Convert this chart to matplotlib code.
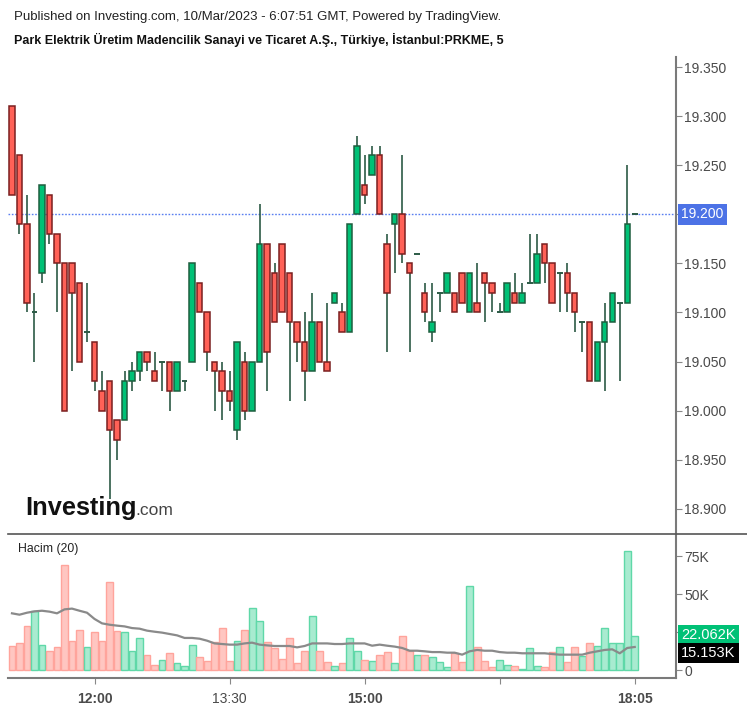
import numpy as np
import matplotlib.pyplot as plt
import matplotlib.transforms as mtransforms
from matplotlib.lines import Line2D

plt.rcParams['font.family'] = ['Liberation Sans', 'DejaVu Sans']

# 5-minute candles
opens = [19.31, 19.26, 19.19, 19.10, 19.14, 19.22, 19.18, 19.15, 19.15, 19.13,
         19.08, 19.07, 19.02, 19.03, 18.99, 18.99, 19.03, 19.04, 19.06, 19.04,
         19.05, 19.05, 19.02, 19.03, 19.05, 19.13, 19.10, 19.05, 19.04, 19.02,
         18.98, 19.05, 19.00, 19.05, 19.17, 19.14, 19.17, 19.14, 19.09, 19.07,
         19.04, 19.09, 19.05, 19.11, 19.10, 19.08, 19.20, 19.23, 19.24, 19.26,
         19.17, 19.19, 19.20, 19.15, 19.16, 19.12, 19.08, 19.12, 19.12, 19.12,
         19.14, 19.10, 19.11, 19.14, 19.13, 19.10, 19.10, 19.12, 19.11, 19.13,
         19.13, 19.17, 19.15, 19.14, 19.14, 19.12, 19.09, 19.09, 19.03, 19.07,
         19.09, 19.11, 19.11, 19.20]
highs = [19.31, 19.26, 19.22, 19.12, 19.23, 19.22, 19.18, 19.15, 19.15, 19.13,
         19.13, 19.07, 19.04, 19.03, 18.99, 19.04, 19.05, 19.06, 19.06, 19.06,
         19.05, 19.05, 19.05, 19.03, 19.15, 19.13, 19.10, 19.05, 19.05, 19.04,
         19.07, 19.06, 19.05, 19.21, 19.17, 19.15, 19.17, 19.14, 19.09, 19.10,
         19.12, 19.09, 19.11, 19.12, 19.11, 19.19, 19.28, 19.26, 19.27, 19.27,
         19.18, 19.20, 19.26, 19.15, 19.16, 19.13, 19.13, 19.12, 19.14, 19.12,
         19.14, 19.14, 19.15, 19.14, 19.13, 19.11, 19.13, 19.14, 19.13, 19.18,
         19.18, 19.17, 19.15, 19.14, 19.15, 19.12, 19.09, 19.09, 19.07, 19.11,
         19.12, 19.11, 19.25, 19.20]
lows = [19.22, 19.18, 19.10, 19.05, 19.13, 19.17, 19.10, 19.00, 19.04, 19.05,
        19.07, 19.02, 19.00, 18.91, 18.95, 18.99, 19.02, 19.03, 19.04, 19.03,
        19.02, 19.00, 19.02, 19.02, 19.05, 19.10, 19.04, 19.00, 18.99, 19.00,
        18.97, 18.99, 19.00, 19.05, 19.02, 19.09, 19.10, 19.01, 19.05, 19.01,
        19.04, 19.05, 19.04, 19.11, 19.08, 19.08, 19.20, 19.21, 19.24, 19.20,
        19.06, 19.14, 19.15, 19.06, 19.16, 19.09, 19.07, 19.10, 19.12, 19.10,
        19.11, 19.10, 19.10, 19.09, 19.10, 19.10, 19.10, 19.11, 19.11, 19.13,
        19.13, 19.13, 19.11, 19.10, 19.10, 19.08, 19.06, 19.03, 19.03, 19.02,
        19.09, 19.03, 19.11, 19.20]
closes = [19.22, 19.19, 19.11, 19.10, 19.23, 19.18, 19.15, 19.00, 19.12, 19.05,
          19.08, 19.03, 19.00, 18.98, 18.97, 19.03, 19.04, 19.06, 19.05, 19.03,
          19.05, 19.02, 19.05, 19.03, 19.15, 19.10, 19.06, 19.04, 19.02, 19.01,
          19.07, 19.00, 19.05, 19.17, 19.06, 19.09, 19.10, 19.09, 19.07, 19.04,
          19.09, 19.05, 19.04, 19.12, 19.08, 19.19, 19.27, 19.22, 19.26, 19.20,
          19.12, 19.20, 19.16, 19.14, 19.16, 19.10, 19.09, 19.12, 19.14, 19.10,
          19.11, 19.14, 19.10, 19.13, 19.12, 19.10, 19.13, 19.11, 19.12, 19.13,
          19.16, 19.15, 19.11, 19.14, 19.12, 19.10, 19.09, 19.03, 19.07, 19.09,
          19.12, 19.11, 19.19, 19.20]

# volume in thousands and its 20-bar average
volume = [16.0, 17.5, 29.2, 38.8, 16.7, 12.7, 15.1, 69.3, 19.3, 26.5,
          15.1, 25.0, 19.3, 57.9, 25.9, 25.0, 12.7, 20.8, 10.1, 3.3,
          6.8, 11.0, 4.4, 2.9, 16.7, 8.6, 6.1, 18.4, 27.4, 6.1,
          19.3, 26.5, 40.6, 32.0, 18.4, 14.3, 7.0, 20.8, 4.4, 12.7,
          35.5, 12.7, 5.3, 2.9, 4.4, 20.8, 12.7, 6.8, 6.1, 10.1,
          11.8, 4.4, 22.6, 12.7, 10.1, 10.1, 8.6, 5.3, 2.0, 11.0,
          5.3, 55.5, 15.1, 6.1, 2.0, 6.8, 3.5, 2.9, 0.4, 14.3,
          2.9, 2.0, 11.8, 15.1, 5.3, 15.1, 9.4, 17.5, 16.0, 27.4,
          17.5, 17.5, 78.5, 22.062]
vol_ma = [37.3, 36.4, 37.7, 38.6, 39.0, 38.4, 37.3, 39.9, 40.4, 39.0,
          37.7, 33.6, 30.7, 29.8, 29.2, 28.7, 27.6, 27.2, 25.9, 25.2,
          24.6, 23.7, 22.8, 21.1, 21.1, 20.6, 19.3, 17.5, 17.1, 16.7,
          16.7, 17.5, 18.0, 16.7, 16.2, 15.8, 15.8, 15.8, 14.9, 15.8,
          17.5, 17.5, 17.5, 17.1, 17.1, 17.5, 17.5, 17.5, 16.0, 16.7,
          16.0, 15.4, 14.5, 12.7, 12.7, 12.3, 11.8, 11.8, 11.4, 11.4,
          10.1, 12.3, 13.2, 12.7, 12.7, 11.8, 11.4, 11.4, 11.0, 11.0,
          11.0, 11.0, 10.5, 10.1, 10.1, 10.1, 10.1, 11.4, 12.3, 13.2,
          13.6, 11.0, 14.5, 15.153]

tick_idx = [11, 29, 47, 65, 83]
tick_labels = ['12:00', '13:30', '15:00', '', '18:05']
bold_ticks = ['12:00', '15:00', '18:05']
price_ticks = [18.90, 18.95, 19.00, 19.05, 19.10, 19.15, 19.20, 19.25, 19.30, 19.35]
last_price = 19.20

W, H = 747, 707
fig = plt.figure(figsize=(W / 100, H / 100), dpi=100)

def box(x0, y0, x1, y1):
    return [x0 / W, 1 - y1 / H, (x1 - x0) / W, (y1 - y0) / H]

ax = fig.add_axes(box(8, 57, 676, 534))
axv = fig.add_axes(box(8, 534, 676, 678), sharex=ax)

x = np.arange(len(opens))
o = np.array(opens); c = np.array(closes)
up = c >= o

green, red = '#00c176', '#ff6157'
green_edge, red_edge = '#1e5e3e', '#7a1f1f'
wick = '#2c5a45'

ax.vlines(x, lows, highs, color=wick, lw=1.2, zorder=2)
body_lo = np.minimum(o, c)
body_h = np.abs(c - o)
flat = body_h < 1e-9
ax.bar(x[~flat], body_h[~flat], bottom=body_lo[~flat], width=0.72,
       color=np.where(up, green, red)[~flat],
       edgecolor=np.where(up, green_edge, red_edge)[~flat], lw=1.1, zorder=3)
ax.hlines(o[flat], x[flat] - 0.38, x[flat] + 0.38, color=wick, lw=1.4, zorder=3)

ax.axhline(last_price, color='#5a7ff0', ls=(0, (1.2, 1.2)), lw=1.0, zorder=1)

ax.set_ylim(18.8744, 19.3602)
ax.set_xlim(-0.53, 88.5)
ax.yaxis.tick_right()
ax.set_yticks(price_ticks)
# the 19.200 label sits under the last-price box
ax.set_yticklabels(['' if abs(p - last_price) < 1e-9 else f'{p:.3f}' for p in price_ticks])
ax.tick_params(axis='y', colors='#888888', labelcolor='#4a4a4a', length=4,
               labelsize=10, pad=2)
ax.tick_params(axis='x', bottom=False, labelbottom=False)
for s in ['left', 'top', 'bottom']:
    ax.spines[s].set_visible(False)
ax.spines['right'].set_color('#7a7a7a')
ax.spines['right'].set_linewidth(1.5)

trans = mtransforms.blended_transform_factory(ax.transAxes, ax.transData)
ax.text(1.008, last_price, f'{last_price:.3f}', transform=trans, color='white',
        fontsize=10, va='center', ha='left',
        bbox=dict(boxstyle='square,pad=0.25', fc='#4c72e6', ec='none'))

# volume panel
axv.bar(x, volume, width=0.92, color=np.where(up, '#a8ebd0', '#ffc6c1'),
        edgecolor=np.where(up, '#5fd8a8', '#ffa49c'), lw=1.0, zorder=2)
axv.plot(x, vol_ma, color='#8a8a8a', lw=1.6, zorder=3)
axv.set_ylim(-5.26, 89.5)
axv.yaxis.tick_right()
axv.set_yticks([0, 25, 50, 75])
axv.set_yticklabels(['0', '', '50K', '75K'])
axv.tick_params(axis='y', colors='#888888', labelcolor='#4a4a4a', length=4,
                labelsize=10, pad=2)
axv.set_xticks(tick_idx)
axv.set_xticklabels(tick_labels)
axv.tick_params(axis='x', colors='#888888', labelcolor='#4a4a4a', length=4,
                labelsize=10, pad=6)
for lab in axv.get_xticklabels():
    if lab.get_text() in bold_ticks:
        lab.set_fontweight('bold')
axv.spines['left'].set_visible(False)
axv.spines['top'].set_visible(False)
axv.spines['right'].set_color('#7a7a7a')
axv.spines['right'].set_linewidth(1.5)
axv.spines['bottom'].set_color('#7a7a7a')
axv.spines['bottom'].set_linewidth(1.5)

transv = mtransforms.blended_transform_factory(axv.transAxes, axv.transData)
axv.text(1.008, volume[-1] + 1.0, f'{volume[-1]:.3f}K', transform=transv, color='white',
         fontsize=10.5, va='center', ha='left',
         bbox=dict(boxstyle='square,pad=0.2', fc='#00c176', ec='none'), zorder=5)
axv.text(1.008, vol_ma[-1] - 4.0, f'{vol_ma[-1]:.3f}K', transform=transv, color='white',
         fontsize=10.5, va='center', ha='left',
         bbox=dict(boxstyle='square,pad=0.2', fc='black', ec='none'), zorder=5)

# separator between the panels
fig.add_artist(Line2D([8 / W, 1], [1 - 534 / H, 1 - 534 / H], color='#555555', lw=1.2))

fig.text(18 / W, 1 - 549 / H, 'Hacim (20)', fontsize=8.8, va='center', color='#222222')

fig.text(14 / W, 1 - 17 / H,
         'Published on Investing.com, 10/Mar/2023 - 6:07:51 GMT, Powered by TradingView.',
         fontsize=9.5, va='center', color='#222222')
fig.text(14 / W, 1 - 40 / H,
         'Park Elektrik Üretim Madencilik Sanayi ve Ticaret A.Ş., Türkiye, İstanbul:PRKME, 5',
         fontsize=9.0, fontweight='bold', va='center', color='#111111')

# Investing.com logo
fig.text(25 / W, 1 - 515 / H, 'Investing', fontsize=18.3, fontweight='bold',
         color='#111111', va='baseline', zorder=10)
fig.text(135 / W, 1 - 515 / H, '.com', fontsize=12.5, color='#444444',
         va='baseline', zorder=10)

fig.savefig('out.png', dpi=100)
